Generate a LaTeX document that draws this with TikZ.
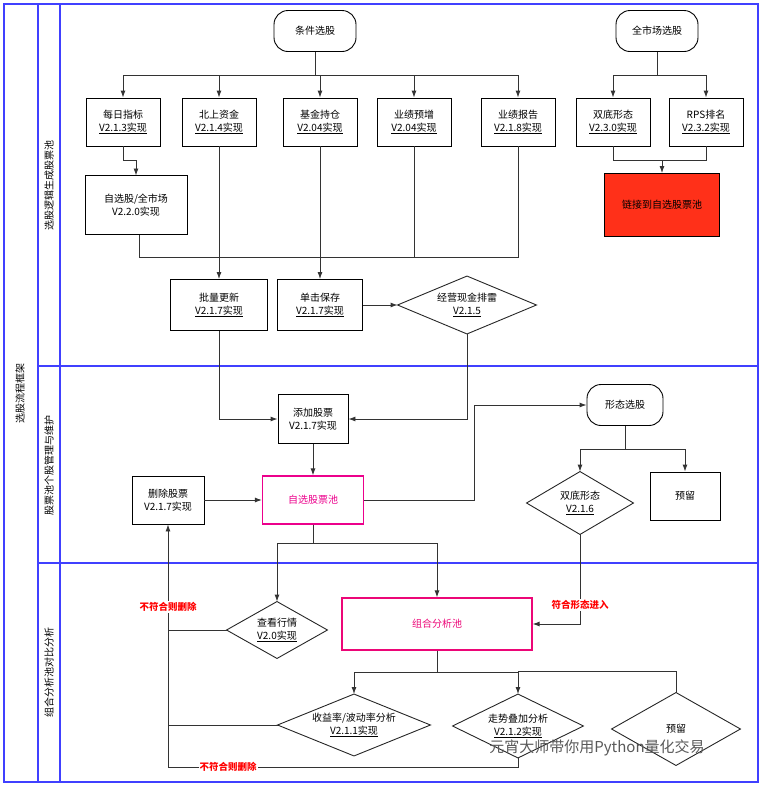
\documentclass[tikz,border=0pt]{standalone}
\usepackage{fontspec}
\setmainfont{Noto Sans CJK SC}
\usepackage{tikz}
\usetikzlibrary{positioning, shapes, arrows.meta, shapes.geometric}

\begin{document}
\begin{tikzpicture}[
    x=1pt, y=-1pt,
    font=\fontsize{10}{13}\selectfont,
    line width=0.9pt,
    lane/.style={draw=blue!75, line width=1.3pt},
    stepbox/.style={rectangle, draw, minimum width=74pt, minimum height=48pt, align=center, inner sep=2pt},
    terminal/.style={rectangle, rounded corners=14pt, draw, minimum width=82pt, minimum height=41pt, align=center},
    decision/.style={rectangle, align=center, inner sep=0pt,
        append after command={\pgfextra{\draw[black!85, line width=0.9pt] (\tikzlastnode.north) -- (\tikzlastnode.east)
            -- (\tikzlastnode.south) -- (\tikzlastnode.west) -- cycle;}}},
    poolbox/.style={rectangle, draw=magenta, line width=1.2pt, text=magenta, align=center},
    arr/.style={-{Latex[length=7pt,width=5pt]}, draw=black!80},
    link/.style={draw=black!80},
    redlabel/.style={text=red, font=\fontsize{9.5}{11}\selectfont\bfseries, fill=white, inner sep=1pt}
]
\useasboundingbox (0,0) rectangle (761,785);

% Lanes
\draw[lane] (4,4) rectangle (758,782);
\draw[lane] (38,4) -- (38,782);
\draw[lane] (60,4) -- (60,782);
\draw[lane] (38,366) -- (758,366);
\draw[lane] (38,563) -- (758,563);
\node[rotate=90] (title) at (20,393) {选股流程框架};
\node[rotate=90] (laneA) at (49,185) {选股逻辑生成股票池};
\node[rotate=90] (laneB) at (49,465) {股票池个股管理与维护};
\node[rotate=90] (laneC) at (49,672) {组合分析池对比分析};

% Lane 1: selection
\node[terminal] (cond) at (315,31) {条件选股};
\node[terminal] (market) at (657,31) {全市场选股};

\node[stepbox] (daily) at (123,122) {每日指标\\\underline{V2.1.3实现}};
\node[stepbox] (north) at (219,122) {北上资金\\\underline{V2.1.4实现}};
\node[stepbox] (fund) at (320,122) {基金持仓\\\underline{V2.04实现}};
\node[stepbox] (forecast) at (414,122) {业绩预增\\\underline{V2.04实现}};
\node[stepbox] (report) at (518,122) {业绩报告\\\underline{V2.1.8实现}};
\node[stepbox] (dbottom) at (613,122) {双底形态\\\underline{V2.3.0实现}};
\node[stepbox] (rps) at (706,122) {RPS排名\\\underline{V2.3.2实现}};

\node[stepbox, minimum width=102pt, minimum height=59pt] (scope) at (136,205) {自选股/全市场\\V2.2.0实现};
\node[stepbox, fill=red!80!orange!90, minimum width=115pt, minimum height=63pt] (linkpool) at (662,205) {链接到自选股票池};

\node[stepbox, minimum width=97pt, minimum height=51pt] (batch) at (219,305) {批量更新\\\underline{V2.1.7实现}};
\node[stepbox, minimum width=85pt, minimum height=51pt] (save) at (320,305) {单击保存\\\underline{V2.1.7实现}};
\node[decision, minimum width=138pt, minimum height=57pt] (cash) at (467,305) {经营现金排雷\\\underline{V2.1.5}};

% Edges lane 1
\foreach \t in {daily, north, fund, forecast, report}
    \draw[arr] (cond.south) -- (315,75) -| (\t.north);
\foreach \t in {dbottom, rps}
    \draw[arr] (market.south) -- (657,75) -| (\t.north);
\draw[arr] (daily.south) -- (123,160) -| (136,175.5);
\draw[arr] (dbottom.south) |- (662,160) -- (linkpool.north);
\draw[link] (rps.south) |- (662,160);
\draw[link] (scope.south) ++(3,0) |- (report.south |- 0,257) -- (report.south);
\draw[link] (forecast.south) -- (forecast.south |- 0,257);
\draw[arr] (north.south) -- (batch.north);
\draw[arr] (fund.south) -- (save.north);
\draw[arr] (save.east) -- (cash.west);

% Lane 2: pool maintenance
\node[stepbox, minimum width=70pt, minimum height=49pt] (add) at (313,419) {添加股票\\V2.1.7实现};
\node[terminal, minimum width=76pt, minimum height=41pt] (pattern) at (625,405) {形态选股};
\node[poolbox, minimum width=101pt, minimum height=48pt] (pool) at (313,500) {自选股票池};
\node[stepbox, minimum width=72pt, minimum height=48pt] (delete) at (168,500) {删除股票\\V2.1.7实现};
\node[decision, minimum width=106pt, minimum height=62pt] (dbpat) at (580,503) {双底形态\\\underline{V2.1.6}};
\node[stepbox, minimum width=70pt, minimum height=48pt] (reserveA) at (685,496) {预留};

\draw[arr] (batch.south) |- (add.west);
\draw[arr] (cash.south) |- (add.east);
\draw[arr] (add.south) -- (pool.north);
\draw[arr] (delete.east) -- (pool.west);
\draw[arr] (pool.east) -- (474,500) |- (pattern.west);
\draw[arr] (pattern.south) -- (625,449) -| (dbpat.north);
\draw[arr] (pattern.south) -- (625,449) -| (reserveA.north);

% Lane 3: combination analysis
\node[decision, minimum width=100pt, minimum height=56pt] (quote) at (277,630) {查看行情\\\underline{V2.0实现}};
\node[poolbox, draw=magenta!80!red, text=magenta!80!red, minimum width=190pt, minimum height=52pt] (combo) at (437,624) {组合分析池};
\node[decision, minimum width=152pt, minimum height=61pt] (ret) at (354,725) {收益率/波动率分析\\\underline{V2.1.1实现}};
\node[decision, minimum width=130pt, minimum height=63pt] (trend) at (518,726) {走势叠加分析\\\underline{V2.1.2实现}};
\node[decision, minimum width=128pt, minimum height=72pt] (reserveB) at (676,729) {预留};

\draw[arr] (pool.south) -- (313,543) -| (quote.north);
\draw[arr] (pool.south) -- (313,543) -| (combo.north);
\draw[arr] (dbpat.south) |- (combo.east);
\node[redlabel] (enter) at (580,605) {符合形态进入};
\draw[arr] (combo.south) -- (437,672) -| (ret.north);
\draw[arr] (combo.south) -- (437,672) -| (trend.north);
\draw[link] (518,671) -| (reserveB.north);
\draw[link] (quote.west) -- (168,630);
\draw[link] (ret.west) -- (168,725);
\draw[arr] (trend.south) |- (168,767) -- (delete.south);
\node[redlabel] (delA) at (168,607) {不符合则删除};
\node[redlabel] (delB) at (228,767) {不符合则删除};

% Watermark
\node[text=black!65, font=\fontsize{15}{18}\selectfont] (mark) at (597,748) {元宵大师带你用Python量化交易};
\end{tikzpicture}
\end{document}
